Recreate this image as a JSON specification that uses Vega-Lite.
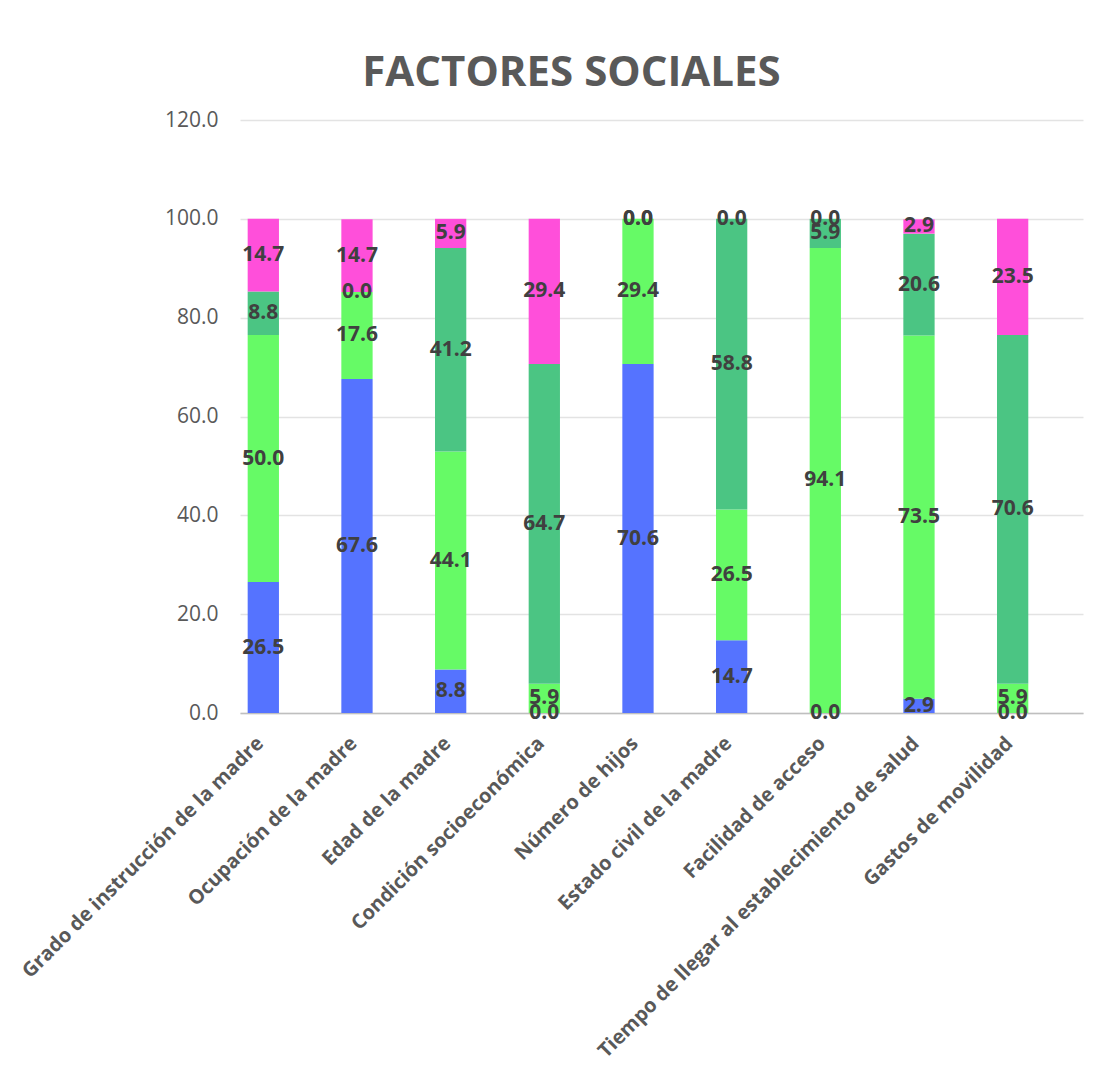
{
  "$schema": "https://vega.github.io/schema/vega-lite/v6.json",
  "width": 843,
  "height": 593,
  "autosize": {"type": "none"},
  "padding": {"left": 240, "top": 120, "right": 30, "bottom": 366},
  "background": "white",
  "config": {"view": {"stroke": null}},
  "title": {
    "text": "FACTORES SOCIALES",
    "anchor": "middle",
    "frame": "group",
    "dx": -90,
    "offset": 14,
    "fontSize": 42,
    "font": "Open Sans",
    "fontWeight": "bold",
    "color": "#595959"
  },
  "data": {
    "values": [
      {"factor": "Grado de instrucción de la madre", "serie": "Serie 1", "valor": 26.5},
      {"factor": "Grado de instrucción de la madre", "serie": "Serie 2", "valor": 50.0},
      {"factor": "Grado de instrucción de la madre", "serie": "Serie 3", "valor": 8.8},
      {"factor": "Grado de instrucción de la madre", "serie": "Serie 4", "valor": 14.7},
      {"factor": "Ocupación de la madre", "serie": "Serie 1", "valor": 67.6},
      {"factor": "Ocupación de la madre", "serie": "Serie 2", "valor": 17.6},
      {"factor": "Ocupación de la madre", "serie": "Serie 3", "valor": 0.0},
      {"factor": "Ocupación de la madre", "serie": "Serie 4", "valor": 14.7},
      {"factor": "Edad de la madre", "serie": "Serie 1", "valor": 8.8},
      {"factor": "Edad de la madre", "serie": "Serie 2", "valor": 44.1},
      {"factor": "Edad de la madre", "serie": "Serie 3", "valor": 41.2},
      {"factor": "Edad de la madre", "serie": "Serie 4", "valor": 5.9},
      {"factor": "Condición socioeconómica", "serie": "Serie 1", "valor": 0.0},
      {"factor": "Condición socioeconómica", "serie": "Serie 2", "valor": 5.9},
      {"factor": "Condición socioeconómica", "serie": "Serie 3", "valor": 64.7},
      {"factor": "Condición socioeconómica", "serie": "Serie 4", "valor": 29.4},
      {"factor": "Número de hijos", "serie": "Serie 1", "valor": 70.6},
      {"factor": "Número de hijos", "serie": "Serie 2", "valor": 29.4},
      {"factor": "Número de hijos", "serie": "Serie 3", "valor": 0.0},
      {"factor": "Número de hijos", "serie": "Serie 4", "valor": 0.0},
      {"factor": "Estado civil de la madre", "serie": "Serie 1", "valor": 14.7},
      {"factor": "Estado civil de la madre", "serie": "Serie 2", "valor": 26.5},
      {"factor": "Estado civil de la madre", "serie": "Serie 3", "valor": 58.8},
      {"factor": "Estado civil de la madre", "serie": "Serie 4", "valor": 0.0},
      {"factor": "Facilidad de acceso", "serie": "Serie 1", "valor": 0.0},
      {"factor": "Facilidad de acceso", "serie": "Serie 2", "valor": 94.1},
      {"factor": "Facilidad de acceso", "serie": "Serie 3", "valor": 5.9},
      {"factor": "Facilidad de acceso", "serie": "Serie 4", "valor": 0.0},
      {"factor": "Tiempo de llegar al establecimiento de salud", "serie": "Serie 1", "valor": 2.9},
      {"factor": "Tiempo de llegar al establecimiento de salud", "serie": "Serie 2", "valor": 73.5},
      {"factor": "Tiempo de llegar al establecimiento de salud", "serie": "Serie 3", "valor": 20.6},
      {"factor": "Tiempo de llegar al establecimiento de salud", "serie": "Serie 4", "valor": 2.9},
      {"factor": "Gastos de movilidad", "serie": "Serie 1", "valor": 0.0},
      {"factor": "Gastos de movilidad", "serie": "Serie 2", "valor": 5.9},
      {"factor": "Gastos de movilidad", "serie": "Serie 3", "valor": 70.6},
      {"factor": "Gastos de movilidad", "serie": "Serie 4", "valor": 23.5}
    ]
  },
  "encoding": {
    "x": {
      "field": "factor",
      "type": "nominal",
      "sort": null,
      "scale": {"paddingInner": 0.666, "paddingOuter": 0.333, "align": 0.123},
      "axis": {
        "title": null,
        "labelAngle": -45,
        "labelAlign": "right",
        "labelBaseline": "middle",
        "labelPadding": 27,
        "labelOffset": -3,
        "labelLimit": 1000,
        "labelFont": "Open Sans",
        "labelFontSize": 20,
        "labelFontWeight": "bold",
        "labelColor": "#595959",
        "ticks": false,
        "grid": false,
        "domainColor": "#bfbfbf",
        "domainWidth": 1.5
      }
    }
  },
  "layer": [
    {
      "transform": [
        {"stack": "valor", "groupby": ["factor"], "sort": [{"field": "serie", "order": "ascending"}], "as": ["v0", "v1"]}
      ],
      "mark": {"type": "bar"},
      "encoding": {
        "y": {
          "field": "v0",
          "type": "quantitative",
          "scale": {"domain": [0, 120], "nice": false},
          "axis": {
            "title": null,
            "values": [0, 20, 40, 60, 80, 100, 120],
            "format": ".1f",
            "domain": false,
            "ticks": false,
            "labelPadding": 22,
            "labelFont": "Open Sans",
            "labelFontSize": 21,
            "labelColor": "#595959",
            "gridColor": "#e3e3e3",
            "gridWidth": 1.3
          }
        },
        "y2": {"field": "v1"},
        "color": {
          "field": "serie",
          "type": "nominal",
          "scale": {
            "domain": ["Serie 1", "Serie 2", "Serie 3", "Serie 4"],
            "range": ["#5573ff", "#66fa66", "#4bc583", "#ff4fda"]
          },
          "legend": null
        }
      }
    },
    {
      "transform": [
        {"stack": "valor", "groupby": ["factor"], "sort": [{"field": "serie", "order": "ascending"}], "as": ["v0", "v1"]},
        {"fold": ["v0", "v1"], "as": ["extremo", "pos"]},
        {"aggregate": [{"op": "mean", "field": "pos", "as": "medio"}], "groupby": ["factor", "serie", "valor"]}
      ],
      "mark": {
        "type": "text",
        "font": "Open Sans",
        "fontSize": 21,
        "fontWeight": "bold",
        "color": "#404040",
        "baseline": "middle",
        "align": "center"
      },
      "encoding": {
        "y": {"field": "medio", "type": "quantitative"},
        "text": {"field": "valor", "type": "quantitative", "format": ".1f"}
      }
    }
  ]
}
